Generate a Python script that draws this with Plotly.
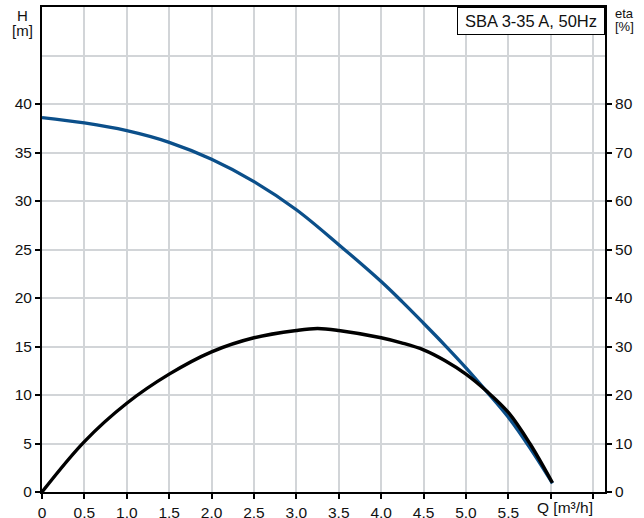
import plotly.graph_objects as go

# Data
q_h = [0, 0.5, 1.0, 1.5, 2.0, 2.5, 3.0, 3.5, 4.0, 4.25, 4.5, 4.75, 5.0, 5.25, 5.5, 5.75, 6.02]
head = [38.6, 38.05, 37.25, 36.05, 34.3, 32.0, 29.1, 25.5, 21.7, 19.6, 17.4, 15.15, 12.8, 10.3, 7.7, 4.6, 0.9]

q_eta = [0, 0.5, 1.0, 1.5, 2.0, 2.5, 3.0, 3.25, 3.5, 4.0, 4.25, 4.5, 4.75, 5.0, 5.25, 5.5, 5.75, 6.02]
eta = [0, 10.4, 18.3, 24.3, 28.9, 31.8, 33.3, 33.7, 33.3, 31.8, 30.7, 29.3, 27.1, 24.3, 20.7, 16.4, 10.1, 1.9]

x_ticks = [0, 0.5, 1.0, 1.5, 2.0, 2.5, 3.0, 3.5, 4.0, 4.5, 5.0, 5.5, 6.0, 6.5]
x_labels = ["0", "0,5", "1,0", "1,5", "2,0", "2,5", "3,0", "3,5", "4,0", "4,5", "5,0", "5,5", "", ""]
h_ticks = [0, 5, 10, 15, 20, 25, 30, 35, 40]
eta_ticks = [0, 10, 20, 30, 40, 50, 60, 70, 80]

FONT = "Liberation Sans, Arial, sans-serif"
GRID = "#d2d5d8"
W, H = 644, 518
ML, MR, MT, MB = 42, 39, 7, 26
PW, PH = W - ML - MR, H - MT - MB


def px(xp):
    return (xp - ML) / PW


def py(yp):
    return (H - MB - yp) / PH


fig = go.Figure()
fig.add_trace(go.Scatter(x=q_h, y=head, mode="lines", line=dict(color="#0b4f8a", width=3.3, shape="spline", smoothing=1.0),
                         yaxis="y", showlegend=False, hoverinfo="skip"))
fig.add_trace(go.Scatter(x=q_eta, y=eta, mode="lines", line=dict(color="#000000", width=3.4, shape="spline", smoothing=1.0),
                         yaxis="y2", showlegend=False, hoverinfo="skip"))

axis_common = dict(ticks="outside", ticklen=5, tickwidth=2, tickcolor="black", zeroline=False,
                   automargin=False, tickfont=dict(size=15.5, color="#111"))

fig.update_layout(
    width=W, height=H,
    margin=dict(l=ML, r=MR, t=MT, b=MB, pad=0),
    paper_bgcolor="white", plot_bgcolor="white",
    font=dict(family=FONT, size=15.5, color="#111"),
    xaxis=dict(range=[0, 6.64], tickvals=x_ticks, ticktext=x_labels, showgrid=True, gridcolor=GRID, gridwidth=1.6,
               showline=True, linecolor="black", linewidth=2, mirror=True, **axis_common),
    yaxis=dict(range=[0, 50], tickvals=h_ticks, showgrid=True, gridcolor=GRID, gridwidth=1.6,
               minor=dict(dtick=5, tick0=0, showgrid=True, gridcolor=GRID, gridwidth=1.6, ticks=""),
               showline=True, linecolor="black", linewidth=2, mirror=True, **axis_common),
    yaxis2=dict(range=[0, 100], tickvals=eta_ticks, overlaying="y", side="right", showgrid=False,
                showline=True, linecolor="black", linewidth=2, **axis_common),
)

fig.add_annotation(xref="paper", yref="paper", x=px(535), y=py(507.6), xanchor="left", yanchor="middle",
                   text="Q [m³/h]", showarrow=False, font=dict(size=15.5))
fig.add_annotation(xref="paper", yref="paper", x=px(22), y=py(15.5), xanchor="center", yanchor="middle",
                   text="H", showarrow=False, font=dict(size=15))
fig.add_annotation(xref="paper", yref="paper", x=px(22), y=py(30), xanchor="center", yanchor="middle",
                   text="[m]", showarrow=False, font=dict(size=15))
fig.add_annotation(xref="paper", yref="paper", x=px(624), y=py(13.5), xanchor="center", yanchor="middle",
                   text="eta", showarrow=False, font=dict(size=13))
fig.add_annotation(xref="paper", yref="paper", x=px(624), y=py(27), xanchor="center", yanchor="middle",
                   text="[%]", showarrow=False, font=dict(size=13))
fig.add_annotation(xref="paper", yref="paper", x=1.0, y=1.0, xanchor="right", yanchor="top",
                   text="SBA 3-35 A, 50Hz", showarrow=False, font=dict(size=16.5),
                   width=140, height=20, align="center",
                   bordercolor="black", borderwidth=1, bgcolor="white", borderpad=3)

fig.write_html("out.html", config={"displayModeBar": False},
               post_script="document.body.style.margin='0';document.body.style.padding='0';")
